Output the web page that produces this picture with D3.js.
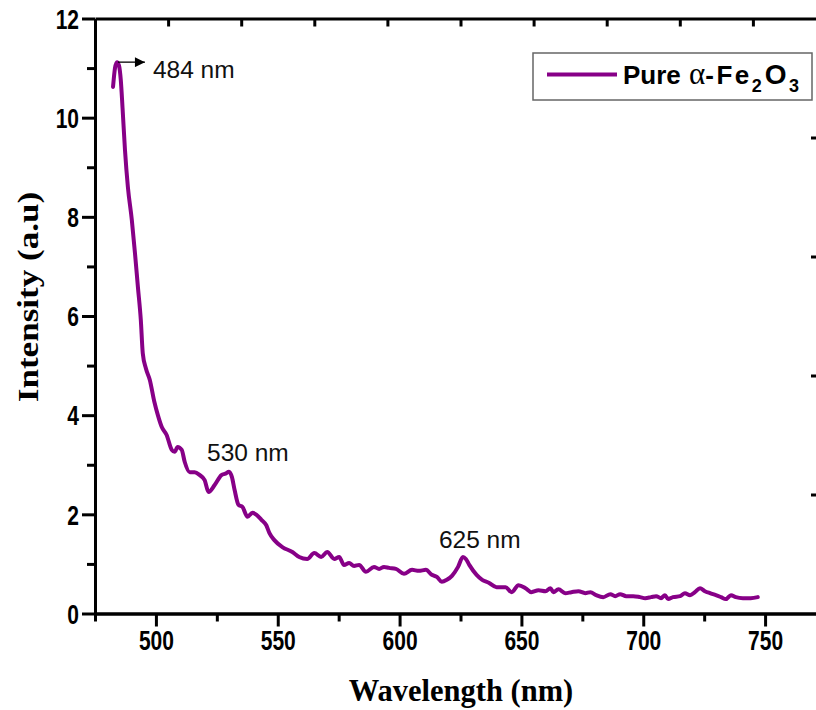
<!DOCTYPE html>
<html>
<head>
<meta charset="utf-8">
<script src="https://cdn.jsdelivr.net/npm/d3@7"></script>
<style>
  html, body { margin: 0; padding: 0; background: #fff; }
  svg { display: block; }
  .tick-lbl { font-family: "Liberation Sans", Arial, sans-serif; font-weight: bold; font-size: 21px; fill: #000; }
  .title { font-family: "Liberation Serif", "Times New Roman", serif; font-weight: bold; font-size: 30.5px; fill: #000; }
  .note { font-family: "Liberation Sans", Arial, sans-serif; font-size: 24.5px; fill: #111; }
</style>
</head>
<body>
<svg id="chart" width="816" height="710"></svg>
<script>
// Photoluminescence spectrum of pure α-Fe2O3
const wavelength = [
  482.4, 483.2, 484.0, 484.8, 485.6, 486.3, 487.3, 488.5, 490.1, 491.4,
  492.6, 493.8, 494.6, 495.9, 497.5, 499.3, 500.8, 502.4, 504.4, 506.5,
  507.7, 508.9, 510.6, 511.8, 513.9, 515.9, 518.0, 520.0, 521.6, 524.1,
  526.9, 528.5, 530.0, 531.2, 532.3, 533.9, 535.5, 537.6, 539.6, 541.3,
  543.3, 545.3, 546.6, 548.6, 551.9, 556.0, 558.8, 562.1, 565.0, 567.8,
  570.3, 573.2, 575.2, 577.2, 579.3, 581.3, 583.4, 586.2, 589.5, 591.6,
  593.6, 595.7, 598.5, 601.8, 605.1, 607.9, 610.8, 613.2, 615.3, 617.3,
  619.4, 621.5, 624.0, 626.0, 627.2, 628.6, 631.6, 633.9, 636.6, 639.8,
  643.5, 646.0, 648.8, 651.7, 654.1, 657.0, 659.9, 661.9, 663.1, 665.2,
  668.0, 670.5, 673.4, 676.2, 678.3, 680.7, 683.6, 686.5, 688.5, 690.5,
  693.0, 695.9, 698.7, 700.8, 703.2, 705.3, 707.3, 708.9, 710.2, 712.2,
  715.1, 717.1, 719.2, 721.2, 723.3, 725.3, 727.4, 729.8, 731.9, 733.9,
  736.0, 738.0, 740.9, 744.1, 747.0
];
const intensity = [
  10.62, 11.00, 11.12, 11.06, 10.75, 10.20, 9.35, 8.60, 7.94, 7.27,
  6.59, 5.92, 5.25, 4.94, 4.71, 4.28, 4.00, 3.76, 3.60, 3.30,
  3.26, 3.36, 3.30, 3.06, 2.85, 2.85, 2.79, 2.69, 2.45, 2.59,
  2.79, 2.82, 2.86, 2.75, 2.49, 2.19, 2.15, 1.95, 2.03, 1.99,
  1.89, 1.78, 1.62, 1.48, 1.34, 1.24, 1.14, 1.10, 1.22, 1.14,
  1.24, 1.10, 1.14, 0.98, 1.02, 0.96, 0.98, 0.84, 0.94, 0.90,
  0.94, 0.92, 0.90, 0.80, 0.88, 0.86, 0.88, 0.78, 0.74, 0.64,
  0.68, 0.76, 0.94, 1.14, 1.10, 0.98, 0.78, 0.68, 0.62, 0.53,
  0.53, 0.43, 0.57, 0.51, 0.43, 0.47, 0.45, 0.51, 0.43, 0.49,
  0.41, 0.43, 0.45, 0.41, 0.43, 0.37, 0.33, 0.39, 0.35, 0.39,
  0.35, 0.35, 0.33, 0.31, 0.33, 0.35, 0.31, 0.37, 0.29, 0.33,
  0.35, 0.41, 0.37, 0.43, 0.51, 0.45, 0.41, 0.37, 0.33, 0.29,
  0.37, 0.33, 0.31, 0.31, 0.33
];

// Axis ticks
const xMajorTicks = [500, 550, 600, 650, 700, 750];
const xMinorTicks = [475, 525, 575, 625, 675, 725, 775];
const yMajorTicks = [0, 2, 4, 6, 8, 10, 12];
const yMinorTicks = [1, 3, 5, 7, 9, 11];
const topFrameTicks = [1, 2, 3, 4, 5, 6, 7, 8, 9];
const rightFrameTicks = [1, 2, 3, 4];

// Peak annotations (label text, anchor wavelength and intensity)
const peakLabel = ["484 nm", "530 nm", "625 nm"];
const peakNm = [484, 530, 626];
const peakValue = [11.12, 2.86, 1.14];

const seriesName = "Pure";
const lineColor = "#870087";

const plot = { left: 95, right: 826, top: 18.5, bottom: 613.5 };

const svg = d3.select("#chart");

const x = d3.scaleLinear().domain([475, 775]).range([plot.left, plot.right]);
const y = d3.scaleLinear().domain([0, 12]).range([plot.bottom, plot.top]);
const xTop = d3.scaleLinear().domain([0, 10]).range([plot.left, plot.right]);
const yRight = d3.scaleLinear().domain([0, 5]).range([plot.bottom, plot.top]);

const labelStretch = 1.28;

function styleAxis(g) {
  g.select(".domain").attr("stroke", "#000").attr("stroke-width", 3);
  g.selectAll(".tick line").attr("stroke", "#000").attr("stroke-width", 3);
  g.selectAll(".tick text").attr("class", "tick-lbl");
}

// Frame: top and right edges with inward ticks
svg.append("g")
  .attr("transform", `translate(0,${plot.top})`)
  .call(d3.axisTop(xTop).tickValues(topFrameTicks).tickSizeInner(-8).tickSizeOuter(0).tickFormat(""))
  .call(styleAxis);

svg.append("g")
  .attr("transform", `translate(${plot.right},0)`)
  .call(d3.axisRight(yRight).tickValues(rightFrameTicks).tickSizeInner(-15).tickSizeOuter(0).tickFormat(""))
  .call(styleAxis);

// Bottom axis
svg.append("g")
  .attr("transform", `translate(0,${plot.bottom})`)
  .call(d3.axisBottom(x).tickValues(xMinorTicks).tickSizeInner(8).tickSizeOuter(0).tickFormat(""))
  .call(styleAxis);
svg.append("g")
  .attr("transform", `translate(0,${plot.bottom})`)
  .call(d3.axisBottom(x).tickValues(xMajorTicks).tickSizeInner(13).tickSizeOuter(0).tickFormat(d3.format("d")))
  .call(styleAxis)
  .call(g => g.selectAll(".tick text")
    .attr("y", 0).attr("dy", "0.71em")
    .attr("transform", `translate(0,17) scale(1,${labelStretch})`));

// Left axis
svg.append("g")
  .attr("transform", `translate(${plot.left},0)`)
  .call(d3.axisLeft(y).tickValues(yMinorTicks).tickSizeInner(8).tickSizeOuter(0).tickFormat(""))
  .call(styleAxis);
svg.append("g")
  .attr("transform", `translate(${plot.left},0)`)
  .call(d3.axisLeft(y).tickValues(yMajorTicks).tickSizeInner(13).tickSizeOuter(0).tickFormat(d3.format("d")))
  .call(styleAxis)
  .call(g => g.selectAll(".tick text")
    .attr("x", 0).attr("dy", "0.36em")
    .attr("transform", `translate(-16,0) scale(1,${labelStretch})`));

// Axis titles
svg.append("text")
  .attr("class", "title")
  .attr("x", 461).attr("y", 701)
  .attr("text-anchor", "middle")
  .text("Wavelength (nm)");

svg.append("text")
  .attr("class", "title")
  .attr("transform", "translate(38,297) rotate(-90) scale(1.15,1)")
  .attr("text-anchor", "middle")
  .text("Intensity (a.u)");

// Spectrum line
const points = wavelength.map((w, i) => [w, intensity[i]]);
svg.append("path")
  .datum(points)
  .attr("fill", "none")
  .attr("stroke", lineColor)
  .attr("stroke-width", 4)
  .attr("stroke-linejoin", "round")
  .attr("stroke-linecap", "round")
  .attr("d", d3.line().x(d => x(d[0])).y(d => y(d[1])).curve(d3.curveMonotoneX));

// Arrow marker for the main peak
svg.append("defs").append("marker")
  .attr("id", "arrowhead")
  .attr("viewBox", "0 0 10 10")
  .attr("refX", 10).attr("refY", 5)
  .attr("markerWidth", 16).attr("markerHeight", 10)
  .attr("markerUnits", "userSpaceOnUse")
  .attr("orient", "auto")
  .append("path")
  .attr("d", "M0,0 L10,5 L0,10 Z")
  .attr("fill", "#000");

svg.append("line")
  .attr("x1", x(peakNm[0]) + 1).attr("y1", y(peakValue[0]))
  .attr("x2", x(peakNm[0]) + 28).attr("y2", y(peakValue[0]))
  .attr("stroke", "#000").attr("stroke-width", 1.3)
  .attr("marker-end", "url(#arrowhead)");

// Peak labels
const labelOffsets = [[36, 16], [-22, -11], [-24, -9]];
peakNm.forEach((nm, i) => {
  svg.append("text")
    .attr("class", "note")
    .attr("x", x(nm) + labelOffsets[i][0])
    .attr("y", y(peakValue[i]) + labelOffsets[i][1])
    .text(peakLabel[i]);
});

// Legend
const legend = svg.append("g");
legend.append("rect")
  .attr("x", 533).attr("y", 53).attr("width", 279).attr("height", 47)
  .attr("fill", "#fff").attr("stroke", "#666").attr("stroke-width", 1.5);
legend.append("line")
  .attr("x1", 547).attr("x2", 617).attr("y1", 74.5).attr("y2", 74.5)
  .attr("stroke", lineColor).attr("stroke-width", 4);
const lt = legend.append("text")
  .attr("x", 623).attr("y", 84)
  .attr("font-family", "Liberation Sans, Arial, sans-serif")
  .attr("font-weight", "bold").attr("font-size", 26).attr("fill", "#000");
lt.append("tspan").text(seriesName + " ");
lt.append("tspan").attr("font-weight", "normal").attr("font-family", "Liberation Serif, Times New Roman, serif").attr("font-size", 31).attr("dx", 1).text("α");
lt.append("tspan").attr("letter-spacing", 2.5).text("-Fe");
lt.append("tspan").attr("font-size", 18).attr("dy", 8).attr("letter-spacing", 3).text("2");
lt.append("tspan").attr("font-size", 28).attr("dy", -8).attr("letter-spacing", 2.5).text("O");
lt.append("tspan").attr("font-size", 18).attr("dy", 8).text("3");
</script>
</body>
</html>
